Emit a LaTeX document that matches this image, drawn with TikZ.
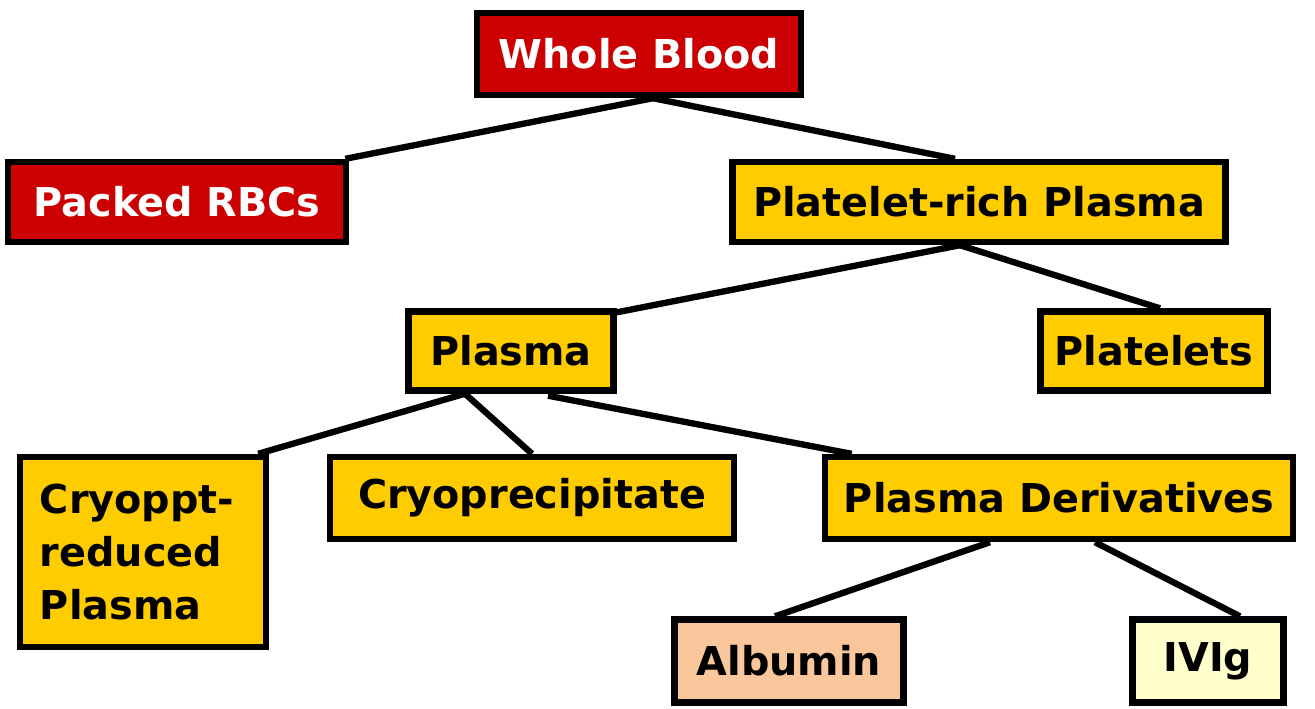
\documentclass[tikz,border=0pt]{standalone}
\usepackage{fontspec}
\setmainfont{DejaVu Sans}
\usetikzlibrary{calc,backgrounds}
\definecolor{redB}{HTML}{CC0000}
\definecolor{goldP}{HTML}{FFCC00}
\definecolor{peachA}{HTML}{FAC69C}
\definecolor{creamI}{HTML}{FFFFCC}
\definecolor{inkL}{HTML}{000000}

\begin{document}
\begin{tikzpicture}[x=0.01cm,y=-0.01cm,
  box/.style={draw=inkL,line width=1.8pt,inner sep=0pt,
    font=\fontsize{11.3}{15.2}\selectfont\bfseries},
  redbox/.style={box,fill=redB,text=white},
  goldbox/.style={box,fill=goldP},
  link/.style={inkL,line width=1.8pt}]
  \useasboundingbox (0,0) rectangle (1315,708);
  % top rows
  \node[redbox,minimum width=3.24cm,minimum height=0.82cm] (wb) at (639,54) {Whole Blood};
  \node[redbox,minimum width=3.38cm,minimum height=0.80cm] (rbc) at (177,202) {Packed RBCs};
  \node[goldbox,minimum width=4.93cm,minimum height=0.80cm] (prp) at (979,202) {Platelet-rich Plasma};
  \node[goldbox,minimum width=2.05cm,minimum height=0.79cm] (plasma) at (511,351) {Plasma};
  \node[goldbox,minimum width=2.27cm,minimum height=0.79cm] (plt) at (1154,351) {Platelets};
  % plasma products
  \node[goldbox,minimum height=1.90cm,inner xsep=0.2cm,text width=2.06cm,align=left]
        (cryoR) at (143,552) {Cryoppt-\\reduced\\Plasma};
  \node[goldbox,minimum width=4.04cm,minimum height=0.82cm] (cryo) at (532,498) {Cryoprecipitate};
  \node[goldbox,minimum width=4.68cm,minimum height=0.82cm] (deriv) at (1059,498) {Plasma Derivatives};
  \node[box,fill=peachA,minimum width=2.29cm,minimum height=0.83cm] (alb) at (789,661) {Albumin};
  \node[box,fill=creamI,minimum width=1.51cm,minimum height=0.83cm] (ivig) at (1208,661) {IVIg};
  % connectors
  \begin{scope}[on background layer]
    \draw[link] ($(wb.south)+(14,0)$) -- ($(rbc.north east)+(-4,0)$);
    \draw[link] ($(wb.south)+(14,0)$) -- ($(prp.north)+(-24,0)$);
    \draw[link] ($(prp.south)+(-19,0)$) -- ($(plasma.north east)+(0,4)$);
    \draw[link] ($(prp.south)+(-19,0)$) -- ($(plt.north)+(6,0)$);
    \draw[link] ($(plasma.south)+(-46,0)$) -- ($(cryoR.north east)+(-11,0)$);
    \draw[link] ($(plasma.south)+(-46,0)$) -- (cryo.north);
    \draw[link] ($(plasma.south)+(37,2)$) -- ($(deriv.north west)+(30,0)$);
    \draw[link] ($(deriv.south)+(-69,0)$) -- ($(alb.north)+(-14,0)$);
    \draw[link] ($(deriv.south)+(36,0)$) -- ($(ivig.north)+(32,0)$);
  \end{scope}
\end{tikzpicture}
\end{document}
